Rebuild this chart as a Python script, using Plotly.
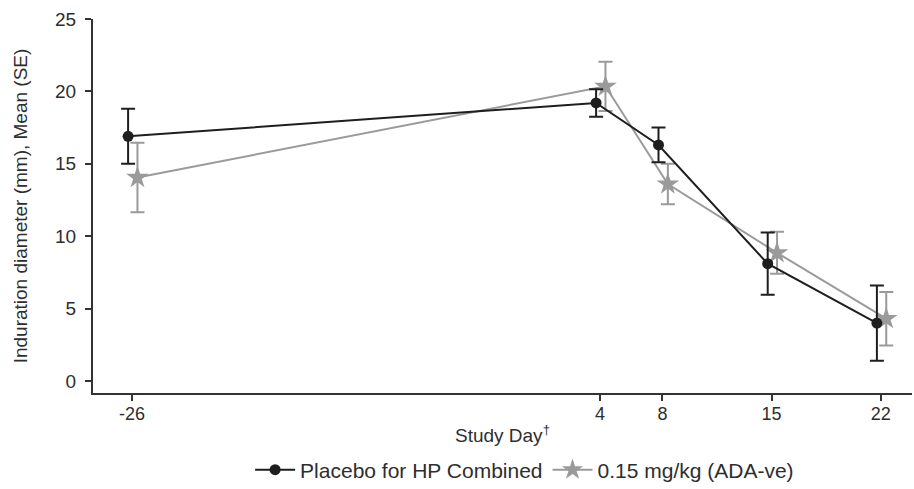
import plotly.graph_objects as go

days = [-26, 4, 8, 15, 22]
tick_labels = ["-26", "4", "8", "15", "22"]

placebo_mean = [16.9, 19.2, 16.3, 8.1, 4.0]
placebo_se = [1.9, 0.95, 1.2, 2.15, 2.6]

dose_mean = [14.05, 20.35, 13.6, 8.85, 4.3]
dose_se = [2.4, 1.7, 1.4, 1.45, 1.85]

BLACK = "#1e1e1e"
GRAY = "#9a9a9a"
TEXT = "#2e2e2e"
FONT = "Liberation Sans, Arial, sans-serif"

dodge_black = -0.25
dodge_gray = 0.35

fig = go.Figure()

fig.add_trace(go.Scatter(
    x=[d + dodge_gray for d in days], y=dose_mean,
    mode="lines+markers", name="0.15 mg/kg (ADA-ve)",
    line=dict(color=GRAY, width=2),
    marker=dict(symbol="star", size=17, color=GRAY, line=dict(width=0)),
    error_y=dict(type="data", array=dose_se, visible=True, color=GRAY, thickness=2, width=7),
))

fig.add_trace(go.Scatter(
    x=[d + dodge_black for d in days], y=placebo_mean,
    mode="lines+markers", name="Placebo for HP Combined",
    line=dict(color=BLACK, width=2),
    marker=dict(symbol="circle", size=11, color=BLACK, line=dict(width=0)),
    error_y=dict(type="data", array=placebo_se, visible=True, color=BLACK, thickness=2, width=7),
))

fig.update_layout(
    width=914, height=489,
    margin=dict(l=93, r=2, t=19, b=96, autoexpand=False),
    plot_bgcolor="white", paper_bgcolor="white",
    font=dict(family=FONT, size=18, color=TEXT),
    showlegend=True,
    legend=dict(orientation="h", x=0.527, xanchor="center", y=-0.206, yanchor="middle",
                traceorder="reversed", font=dict(size=21, color=TEXT),
                itemwidth=40, tracegroupgap=0),
    xaxis=dict(
        range=[-28.5, 24], tickmode="array", tickvals=days, ticktext=tick_labels,
        showgrid=False, zeroline=False, showline=True, linecolor="#333333", linewidth=2,
        ticks="outside", ticklen=6, tickwidth=2, tickcolor="#333333", automargin=False,
        tickfont=dict(size=18), ticklabelstandoff=-3,
        title=dict(text="Study Day<sup>†</sup>", standoff=6, font=dict(size=19)),
    ),
    yaxis=dict(
        range=[-0.83, 25], tickvals=[0, 5, 10, 15, 20, 25],
        showgrid=False, zeroline=False, showline=True, linecolor="#333333", linewidth=2,
        ticks="outside", ticklen=6, tickwidth=2, tickcolor="#333333", automargin=False,
        ticklabelstandoff=5, tickfont=dict(size=19),
        title=dict(text="Induration diameter (mm), Mean (SE)", standoff=22, font=dict(size=19)),
    ),
)

fig.write_html("out.html", config={"displayModeBar": False},
               post_script="document.body.style.margin='0';")
